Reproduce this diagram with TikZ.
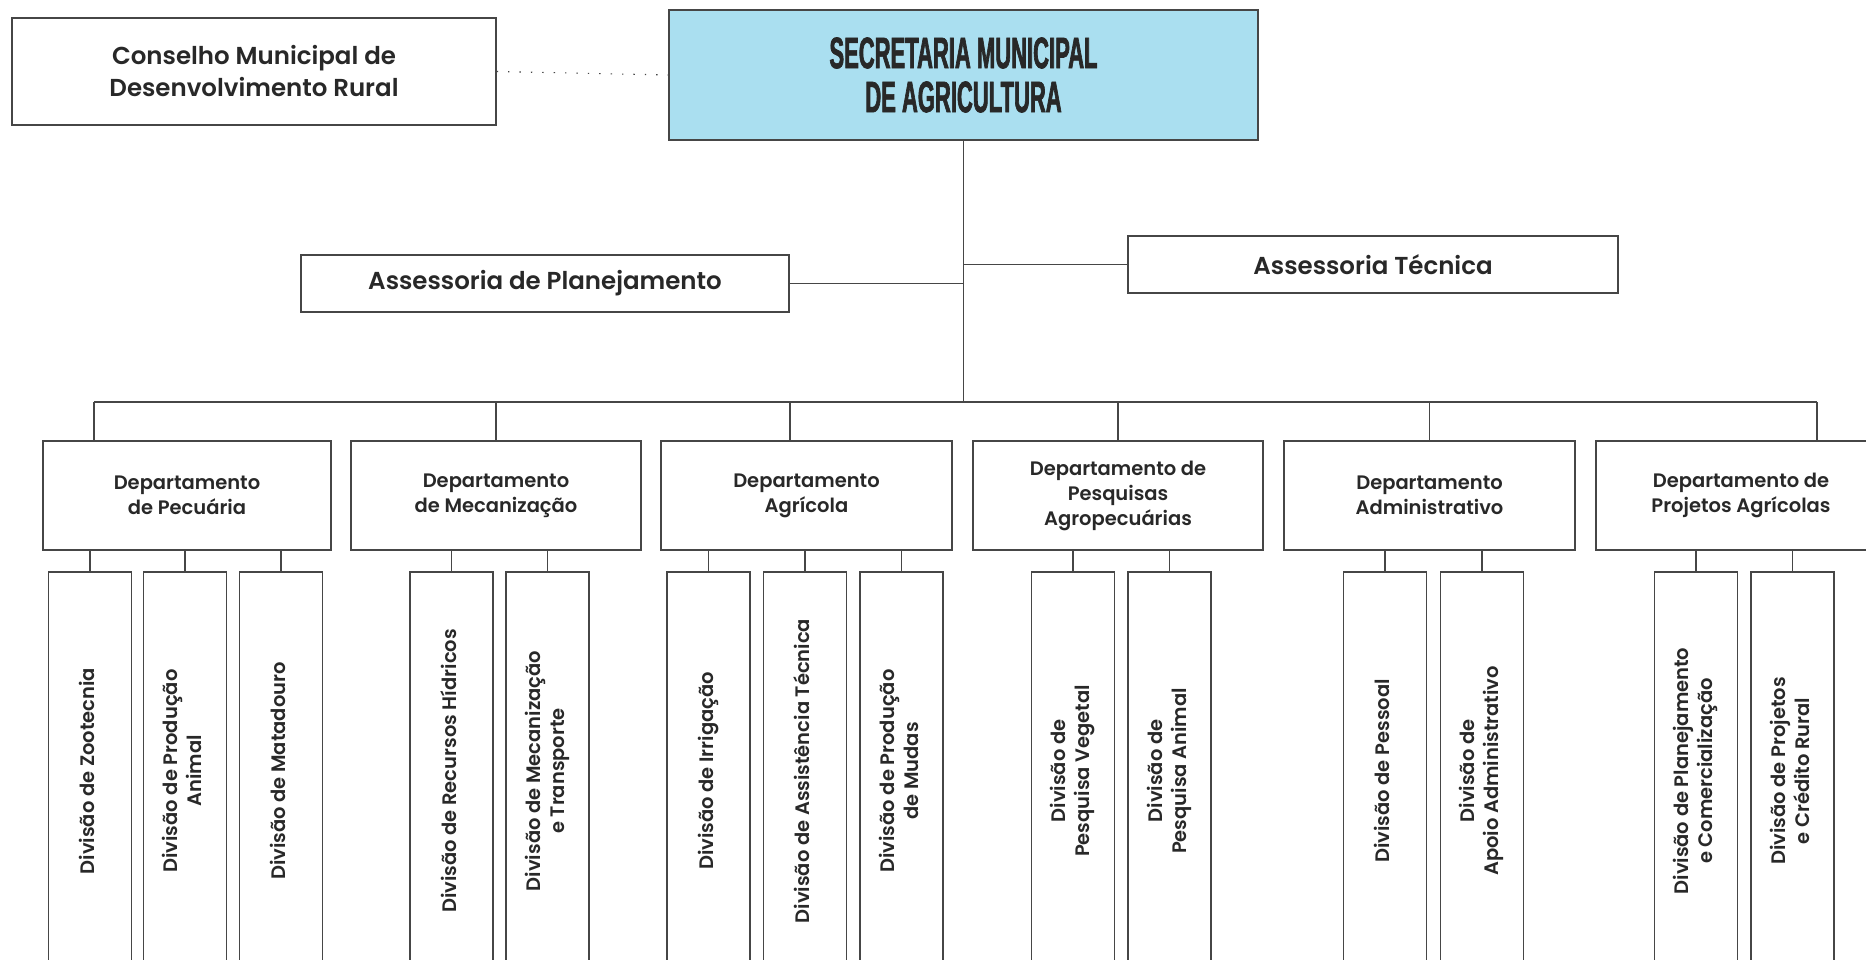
\documentclass[tikz,border=0pt]{standalone}
\usepackage{fontspec}
\setmainfont{Poppins}[UprightFont=* SemiBold, BoldFont=* Bold]
\newfontfamily\titlefont{Liberation Sans Bold}[FakeStretch=0.5, FakeBold=1.5]
\definecolor{linec}{RGB}{70,70,70}
\definecolor{textc}{RGB}{40,40,40}
\definecolor{secblue}{RGB}{170,223,240}
\newcommand{\vlabel}[1]{\rotatebox{90}{\begin{tabular}{@{}c@{}}#1\end{tabular}}}
\begin{document}
\begin{tikzpicture}[x=1pt,y=-1pt,
  box/.style={draw=linec, line width=1.3pt, rectangle, inner sep=0pt, align=center, text=textc},
  link/.style={draw=linec, line width=1.1pt},
  bigf/.style={font=\fontsize{24.5}{32}\selectfont},
  deptbox/.style={box, minimum width=290pt, minimum height=109pt, font=\fontsize{19.5}{25}\selectfont},
  divbox/.style={box, minimum width=83pt, minimum height=398pt, font=\fontsize{19.5}{24}\selectfont},
]
\useasboundingbox (0,0) rectangle (1866,960);

% top level
\node[box, bigf, minimum width=484pt, minimum height=107pt] (cons) at (254,71.5) {Conselho Municipal de\\Desenvolvimento Rural};
\node[box, fill=secblue, minimum width=589pt, minimum height=130pt, font=\titlefont\fontsize{44}{44}\selectfont] (sec) at (963.5,75) {SECRETARIA MUNICIPAL\\DE AGRICULTURA};
\node[box, bigf, minimum width=488pt, minimum height=57pt] (plan) at (545,283.5) {Assessoria de Planejamento};
\node[box, bigf, minimum width=490pt, minimum height=57pt] (tec) at (1373,264.5) {Assessoria Técnica};

% departments
\node[deptbox, minimum width=288pt] (d1) at (187,495.5) {Departamento\\de Pecuária};
\node[deptbox] (d2) at (496,495.5) {Departamento\\de Mecanização};
\node[deptbox, minimum width=291pt] (d3) at (806.5,495.5) {Departamento\\Agrícola};
\node[deptbox] (d4) at (1118,495.5) {Departamento de\\Pesquisas\\Agropecuárias};
\node[deptbox, minimum width=291pt] (d5) at (1429.5,495.5) {Departamento\\Administrativo};
\node[deptbox] (d6) at (1741,495.5) {Departamento de\\Projetos Agrícolas};

% divisions
\node[divbox] (v11) at (90,771) {\vlabel{Divisão de Zootecnia}};
\node[divbox] (v12) at (185,771) {\vlabel{Divisão de Produção\\Animal}};
\node[divbox] (v13) at (281,771) {\vlabel{Divisão de Matadouro}};
\node[divbox] (v21) at (451.5,771) {\vlabel{Divisão de Recursos Hídricos}};
\node[divbox] (v22) at (547.5,771) {\vlabel{Divisão de Mecanização\\e Transporte}};
\node[divbox] (v31) at (708.5,771) {\vlabel{Divisão de Irrigação}};
\node[divbox] (v32) at (805,771) {\vlabel{Divisão de Assistência Técnica}};
\node[divbox] (v33) at (901.5,771) {\vlabel{Divisão de Produção\\de Mudas}};
\node[divbox] (v41) at (1073,771) {\vlabel{Divisão de\\Pesquisa Vegetal}};
\node[divbox] (v42) at (1169.5,771) {\vlabel{Divisão de\\Pesquisa Animal}};
\node[divbox] (v51) at (1385,771) {\vlabel{Divisão de Pessoal}};
\node[divbox] (v52) at (1482,771) {\vlabel{Divisão de\\Apoio Administrativo}};
\node[divbox] (v61) at (1696,771) {\vlabel{Divisão de Planejamento\\e Comercialização}};
\node[divbox] (v62) at (1792.5,771) {\vlabel{Divisão de Projetos\\e Crédito Rural}};

% bus coordinates
\coordinate (busL) at (94,402);
\coordinate (busR) at (1817,402);
\coordinate (t3) at ([xshift=-16.5pt]d3.north);

% connectors
\draw[link, dash pattern=on 1.4pt off 10pt] (cons.east) -- (sec.west);
\draw[link] (sec.south) -- (sec.south |- busL);
\draw[link] (plan.east) -- (plan.east -| sec.south);
\draw[link] (tec.west) -- (tec.west -| sec.south);
\draw[link] (busL) -- (busR);
\draw[link] (busL) -- (busL |- d1.north);
\draw[link] (d2.north) -- (d2.north |- busL);
\draw[link] (t3) -- (t3 |- busL);
\draw[link] (d4.north) -- (d4.north |- busL);
\draw[link] (d5.north) -- (d5.north |- busL);
\draw[link] (busR) -- (busR |- d6.north);

\foreach \d/\v in {d1/v11,d1/v12,d1/v13,d2/v21,d2/v22,d3/v31,d3/v32,d3/v33,d4/v41,d4/v42,d5/v51,d5/v52,d6/v61,d6/v62}{
  \draw[link] (\v.north) -- (\v.north |- \d.south);
}
\end{tikzpicture}
\end{document}
